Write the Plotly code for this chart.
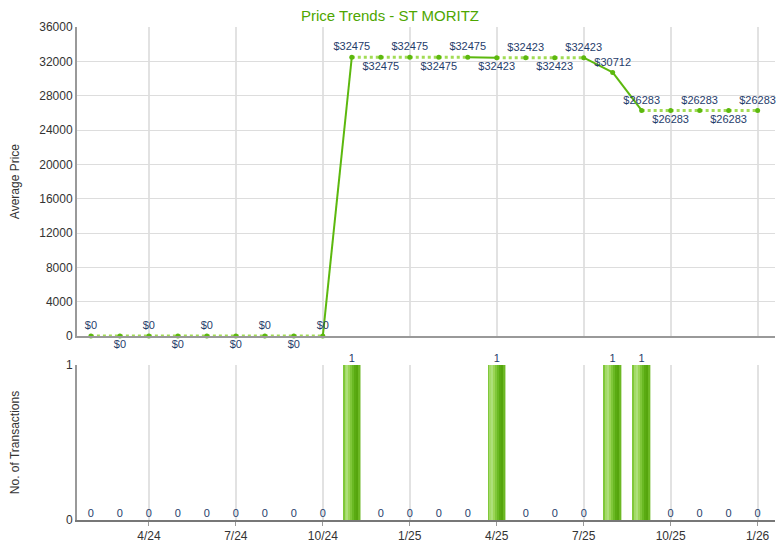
import plotly.graph_objects as go

months = ["2/24","3/24","4/24","5/24","6/24","7/24","8/24","9/24","10/24","11/24","12/24",
          "1/25","2/25","3/25","4/25","5/25","6/25","7/25","8/25","9/25","10/25","11/25","12/25","1/26"]
avg_price = [0,0,0,0,0,0,0,0,0,32475,32475,32475,32475,32475,32423,32423,32423,32423,
             30712,26283,26283,26283,26283,26283]
transactions = [0,0,0,0,0,0,0,0,0,1,0,0,0,0,1,0,0,0,1,1,0,0,0,0]
tick_labels = ["4/24","7/24","10/24","1/25","4/25","7/25","10/25","1/26"]
label_pos = ["top center","bottom center","top center","bottom center","top center",
             "bottom center","top center","bottom center","top center",
             "top center","bottom center","top center","bottom center","top center",
             "bottom center","top center","bottom center","top center",
             "top center","top center","bottom center","top center","bottom center","top center"]

x = list(range(len(months)))
tick_vals = [months.index(t) for t in tick_labels]

FONT = "Liberation Sans, Arial, sans-serif"
LBL = "#1f3d6b"
fig = go.Figure()

# split line into solid (changing) and dotted (flat) segments
sx, sy, dx, dy = [], [], [], []
for i in range(len(x) - 1):
    if avg_price[i] != avg_price[i + 1]:
        sx += [x[i], x[i + 1], None]; sy += [avg_price[i], avg_price[i + 1], None]
    else:
        dx += [x[i], x[i + 1], None]; dy += [avg_price[i], avg_price[i + 1], None]

fig.add_trace(go.Scatter(x=dx, y=dy, mode="lines", line=dict(color="#a2dc55", width=3, dash="dot"),
                         xaxis="x", yaxis="y", hoverinfo="skip", cliponaxis=False))
fig.add_trace(go.Scatter(x=sx, y=sy, mode="lines", line=dict(color="#5cb80e", width=2),
                         xaxis="x", yaxis="y", hoverinfo="skip", cliponaxis=False))
fig.add_trace(go.Scatter(x=x, y=avg_price, mode="markers+text",
                         marker=dict(color="#5cb80e", size=5),
                         text=[f"${v}" for v in avg_price], textposition=label_pos,
                         textfont=dict(family=FONT, size=11, color=LBL),
                         xaxis="x", yaxis="y", cliponaxis=False))

# gradient-looking bars via overlaid strips
bw = 0.6
grad = ["#80c83a", "#a4da68", "#ade07a", "#9ad555", "#80c73a", "#6ab923", "#5aab12", "#56a50e", "#6cb824"]
n = len(grad)
for k, c in enumerate(grad):
    fig.add_trace(go.Bar(x=x, y=transactions, width=bw / n, offset=-bw / 2 + k * bw / n,
                         marker=dict(color=c, line=dict(width=0)),
                         xaxis="x2", yaxis="y2", hoverinfo="skip"))
fig.add_trace(go.Scatter(x=x, y=transactions, mode="text", text=[str(v) for v in transactions],
                         textposition="top center",
                         textfont=dict(family=FONT, size=11, color=LBL),
                         xaxis="x2", yaxis="y2", cliponaxis=False))

ax = dict(range=[-0.48, 23.6], tickvals=tick_vals, showgrid=True, gridcolor="#e2e2e2", gridwidth=2,
          zeroline=False, linecolor="#999999", linewidth=2, showline=True, automargin=False)
fig.update_layout(
    width=780, height=550, showlegend=False, barmode="overlay",
    paper_bgcolor="white", plot_bgcolor="white",
    margin=dict(l=77, r=5, t=27, b=30, autoexpand=False),
    font=dict(family=FONT, size=12, color="#333333"),
    title=dict(text="Price Trends - ST MORITZ", x=0.5, xanchor="center", y=0.971, yref="container",
               yanchor="middle", automargin=False,
               font=dict(family=FONT, size=15, color="#4ea600")),
    xaxis=dict(ax, domain=[0, 1], anchor="y", showticklabels=False, ticks=""),
    yaxis=dict(domain=[0.373, 1], range=[0, 36000], dtick=4000, tickformat="d", showgrid=True,
               gridcolor="#dddddd", zeroline=False, showline=True, linecolor="#999999", linewidth=2,
               automargin=False,
               title=dict(text="Average Price", font=dict(size=12), standoff=17),
               tickfont=dict(size=12)),
    xaxis2=dict(ax, domain=[0, 1], anchor="y2", ticktext=tick_labels, ticks="outside", ticklen=4,
                tickcolor="#999999", linecolor="#777777"),
    yaxis2=dict(domain=[0, 0.3144], range=[0, 1], tickvals=[0, 1], showgrid=True, gridcolor="#dddddd",
                zeroline=False, showline=True, linecolor="#999999", linewidth=2, automargin=False,
                title=dict(text="No. of Transactions", font=dict(size=12), standoff=44)),
)
fig.write_html("out.html", config={"displayModeBar": False},
               post_script="document.body.style.margin='0';document.body.style.overflow='hidden';")
